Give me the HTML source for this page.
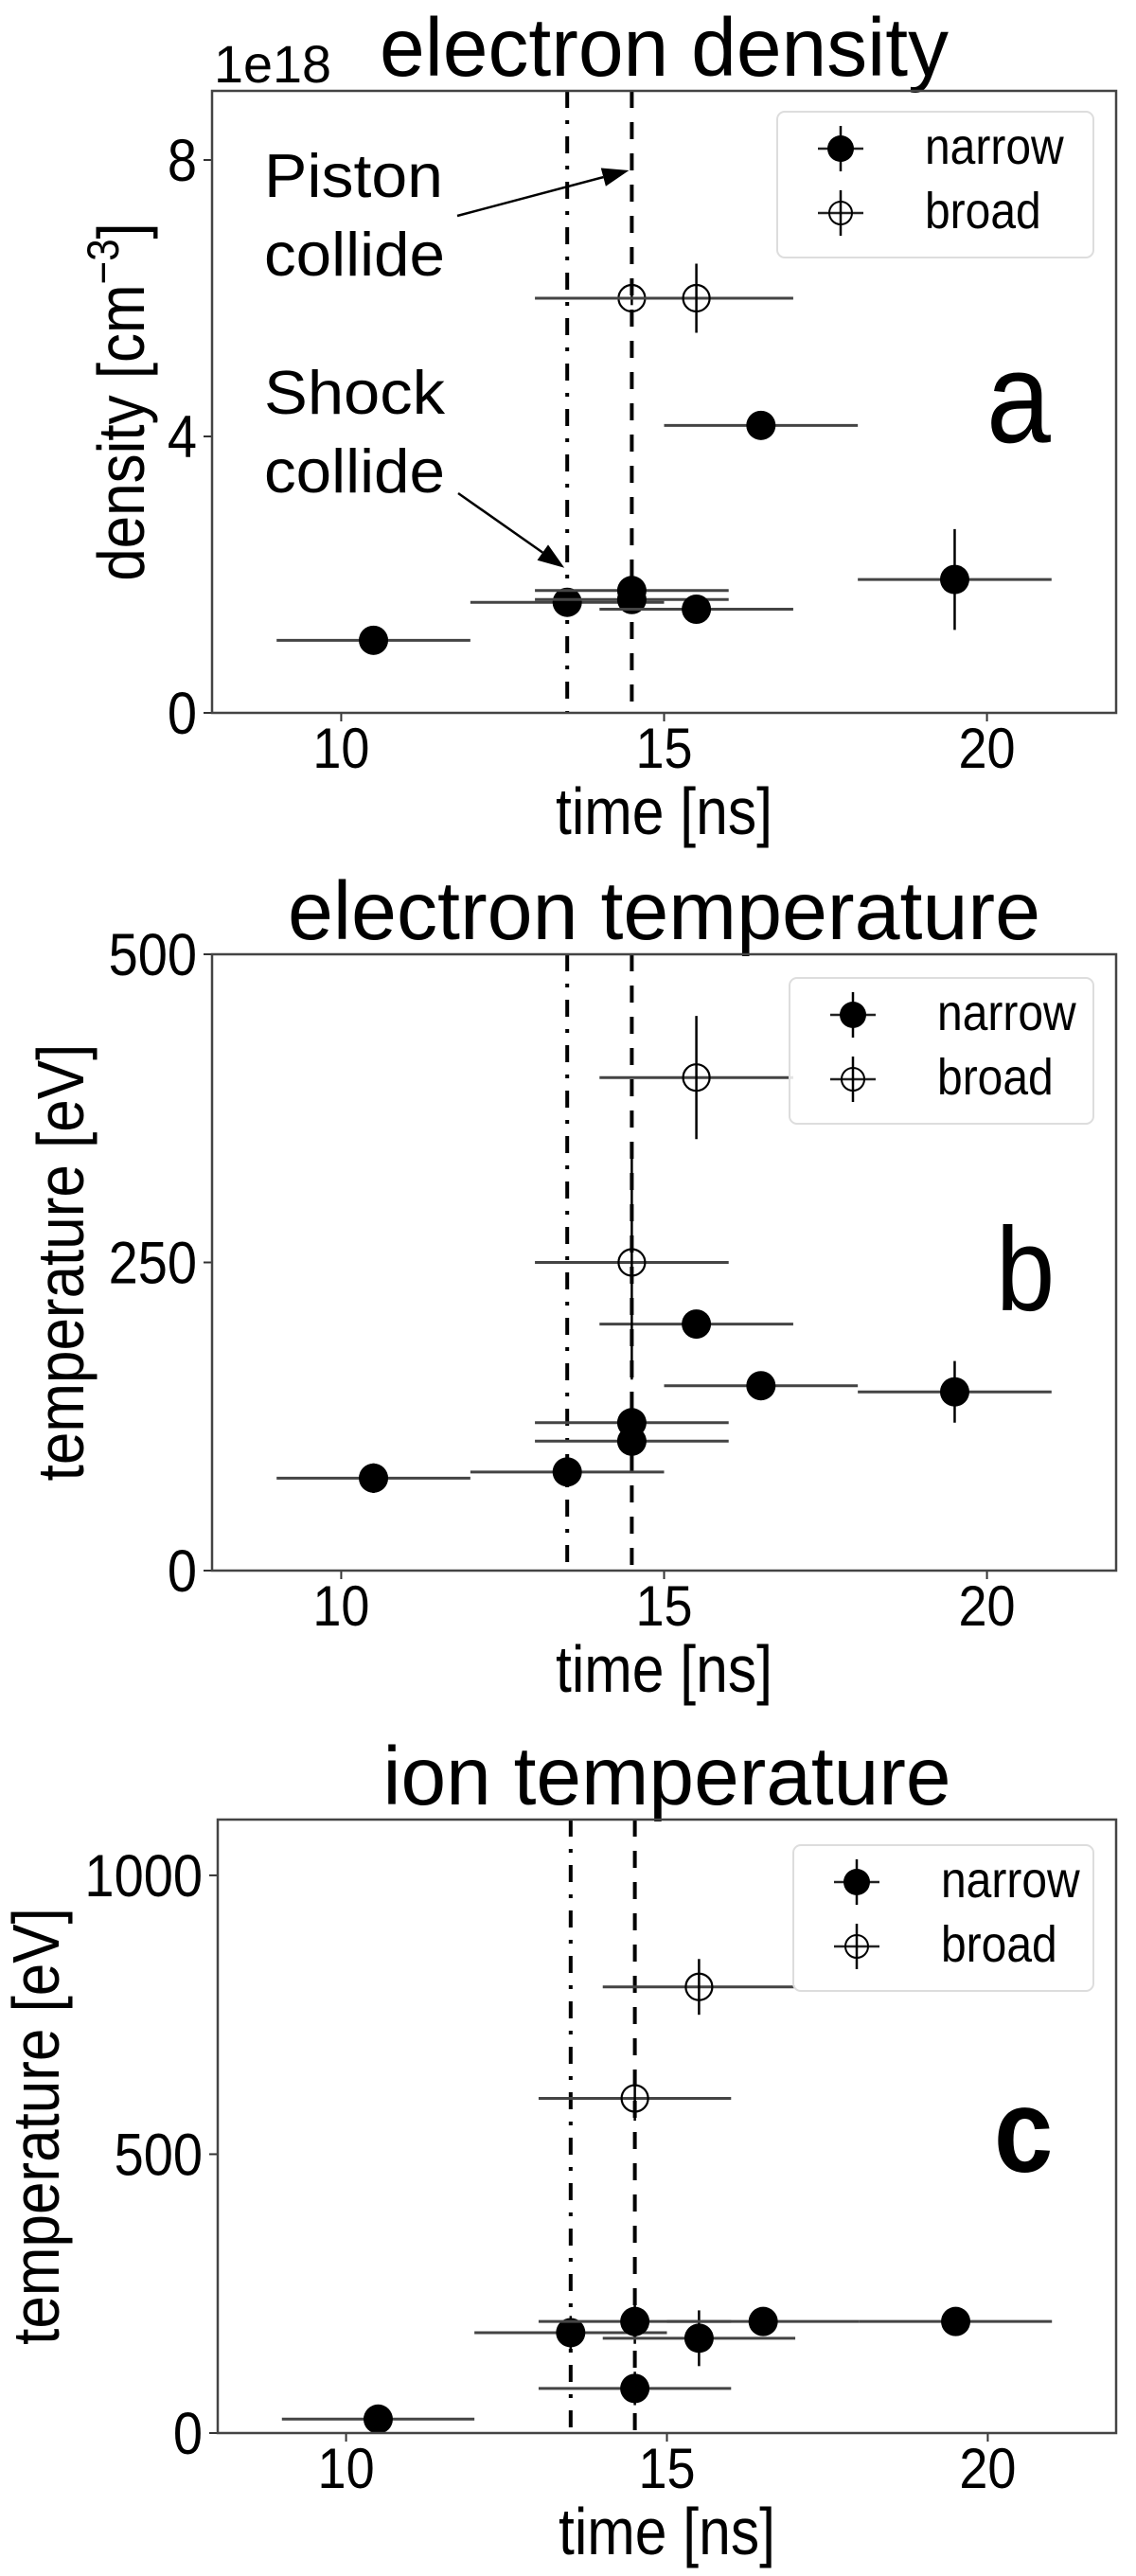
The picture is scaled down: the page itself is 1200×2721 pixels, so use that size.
<!DOCTYPE html>
<html><head><meta charset="utf-8"><title>Plasma diagnostics</title>
<style>
html,body{margin:0;padding:0;background:#fff;}
svg{display:block;font-family:"Liberation Sans",Arial,sans-serif;}
</style></head>
<body>
<svg id="fig" width="1200" height="2721" viewBox="0 0 1200 2721" xmlns="http://www.w3.org/2000/svg"></svg>
<script>
// ---- shared data ----
const xTicks = [10, 15, 20];
const shockTime = 13.5;
const pistonTime = 14.5;

// Panel a: electron density (1e18 cm^-3)
const aNarrowX = [10.5, 13.5, 14.5, 14.5, 15.5, 16.5, 19.5];
const aNarrowY = [1.05, 1.6, 1.77, 1.64, 1.5, 4.16, 1.93];
const aNarrowXerr = [1.5, 1.5, 1.5, 1.5, 1.5, 1.5, 1.5];
const aNarrowYerr = [0.1, 0.2, 0.1, 0.1, 0.1, 0.05, 0.73];
const aBroadX = [14.5, 15.5];
const aBroadY = [6.0, 6.0];
const aBroadXerr = [1.5, 1.5];
const aBroadYerr = [0.1, 0.5];
const aYTicks = [0, 4, 8];

// Panel b: electron temperature (eV)
const bNarrowX = [10.5, 13.5, 14.5, 14.5, 15.5, 16.5, 19.5];
const bNarrowY = [75, 80, 120, 105, 200, 150, 145];
const bNarrowXerr = [1.5, 1.5, 1.5, 1.5, 1.5, 1.5, 1.5];
const bNarrowYerr = [12, 10, 10, 10, 5, 5, 25];
const bBroadX = [14.5, 15.5];
const bBroadY = [250, 400];
const bBroadXerr = [1.5, 1.5];
const bBroadYerr = [95, 50];
const bYTicks = [0, 250, 500];

// Panel c: ion temperature (eV)
const cNarrowX = [10.5, 13.5, 14.5, 14.5, 15.5, 16.5, 19.5];
const cNarrowY = [25, 180, 200, 80, 170, 200, 200];
const cNarrowXerr = [1.5, 1.5, 1.5, 1.5, 1.5, 1.5, 1.5];
const cNarrowYerr = [5, 30, 40, 30, 50, 10, 10];
const cBroadX = [14.5, 15.5];
const cBroadY = [600, 800];
const cBroadXerr = [1.5, 1.5];
const cBroadYerr = [40, 50];
const cYTicks = [0, 500, 1000];

const NS = "http://www.w3.org/2000/svg";
const svg = document.getElementById("fig");
const SY = 1.12; // vertical glyph stretch of the reference
function mk(tag, attrs, parent, text){
  const e = document.createElementNS(NS, tag);
  for (const k in attrs) e.setAttribute(k, attrs[k]);
  if (text !== undefined) e.textContent = text;
  (parent || svg).appendChild(e);
  return e;
}
function tx(attrs, parent, text){
  const e = mk("text", attrs, parent, text);
  const y0 = parseFloat(attrs.y);
  e.setAttribute("transform", "matrix(1,0,0," + SY + ",0," + (-(SY - 1) * y0) + ")");
  return e;
}

function drawPanel(p){
  const g = mk("g", {});
  
  
  const X = v => p.left + (v - 8) / 14 * (p.right - p.left);
  const Y = v => p.bottom - (v - 0) / p.ymax * (p.bottom - p.top);

  const t = tx({x: (p.left + p.right) / 2, y: p.titleY, "text-anchor": "middle", "font-size": 78, fill: "#000", textLength: p.titleW, lengthAdjust: "spacingAndGlyphs"}, g, p.title);
  
  

  xTicks.forEach(v => {
    mk("line", {x1: X(v), x2: X(v), y1: p.bottom, y2: p.bottom + 9, stroke: "#333", "stroke-width": 2}, g);
    const tl = tx({x: X(v), y: p.bottom + 58, "text-anchor": "middle", "font-size": 54}, g, String(v));
    
    
  });
  p.yTicks.forEach(v => {
    mk("line", {x1: p.left - 9, x2: p.left, y1: Y(v), y2: Y(v), stroke: "#333", "stroke-width": 2}, g);
    const tl = tx({x: p.left - 16, y: Y(v) + 22, "text-anchor": "end", "font-size": 56}, g, String(v));
    
    
  });
  const xl = tx({x: (p.left + p.right) / 2, y: p.bottom + 128, "text-anchor": "middle", "font-size": 62, textLength: 229, lengthAdjust: "spacingAndGlyphs"}, g, "time [ns]");
  
  
  const yc = (p.top + p.bottom) / 2;
  const yl = mk("text", {x: 0, y: 0, "text-anchor": "middle", "font-size": 62, transform: "translate(" + p.ylabX + "," + yc + ") rotate(-90) scale(1," + SY + ")"}, g);
  
  
  if (p.name === 'density') {
    yl.textContent = "density [cm";
    mk("tspan", {"font-size": 42, dy: -24}, yl, "\u22123");
    mk("tspan", {dy: 24}, yl, "]");
  } else {
    yl.textContent = "temperature [eV]";
  }

  const sl = mk("line", {x1: X(shockTime), x2: X(shockTime), y1: p.top, y2: p.bottom, stroke: "#000", "stroke-width": 4, "stroke-dasharray": "18 13 4 13"}, g);
  
  
  const pl = mk("line", {x1: X(pistonTime), x2: X(pistonTime), y1: p.top, y2: p.bottom, stroke: "#000", "stroke-width": 4, "stroke-dasharray": "18 15"}, g);
  
  

  function series(xs, ys, xe, ye, filled, nm){
    xs.forEach((xv, i) => {
      const eg = mk("g", {}, g);
      
      
      mk("line", {x1: X(xv - xe[i]), x2: X(xv + xe[i]), y1: Y(ys[i]), y2: Y(ys[i]), stroke: "#444", "stroke-width": 3}, eg);
      mk("line", {x1: X(xv), x2: X(xv), y1: Y(ys[i] - ye[i]), y2: Y(ys[i] + ye[i]), stroke: "#000", "stroke-width": 2.5}, eg);
      if (filled) mk("circle", {cx: X(xv), cy: Y(ys[i]), r: 15.5, fill: "#000"}, eg);
      else mk("circle", {cx: X(xv), cy: Y(ys[i]), r: 14, fill: "none", stroke: "#000", "stroke-width": 2.2}, eg);
    });
  }
  series(p.nx, p.ny, p.nxe, p.nye, true, 'narrow');
  series(p.bx, p.by, p.bxe, p.bye, false, 'broad');

  const fr = mk("rect", {x: p.left, y: p.top, width: p.right - p.left, height: p.bottom - p.top, fill: "none", stroke: "#444", "stroke-width": 2.5}, g);
  
  

  const lg = mk("g", {}, g);
  
  
  mk("rect", {x: p.lgX, y: p.lgY, width: 1155 - p.lgX, height: 154, rx: 8, fill: "#fff", "fill-opacity": 0.85, stroke: "#ddd", "stroke-width": 2}, lg);
  const mx = p.lgX + 67;
  [["narrow", true, 39], ["broad", false, 107]].forEach(([lab, filled, dy]) => {
    const le = mk("g", {}, lg);
    
    
    const cy = p.lgY + dy;
    mk("line", {x1: mx - 24, x2: mx + 24, y1: cy, y2: cy, stroke: "#222", "stroke-width": 2.5}, le);
    mk("line", {x1: mx, x2: mx, y1: cy - 24, y2: cy + 24, stroke: "#000", "stroke-width": 2.5}, le);
    if (filled) mk("circle", {cx: mx, cy: cy, r: 14, fill: "#000"}, le);
    else mk("circle", {cx: mx, cy: cy, r: 12, fill: "none", stroke: "#000", "stroke-width": 2}, le);
    tx({x: p.lgX + 156, y: cy + 16, "font-size": 48}, le, lab);
  });

  const pl2 = tx({x: p.letX, y: p.letY, "font-size": p.letSize, "font-weight": p.letBold ? "bold" : "normal"}, g, p.letter);
  
  
  return {g, X, Y};
}

const pa = drawPanel({name: 'density', title: 'electron density', titleW: 601, titleY: 80, left: 224, right: 1179, top: 96, bottom: 753, ymax: 9,
  yTicks: aYTicks, ylabX: 152, nx: aNarrowX, ny: aNarrowY, nxe: aNarrowXerr, nye: aNarrowYerr,
  bx: aBroadX, by: aBroadY, bxe: aBroadXerr, bye: aBroadYerr, lgX: 821, lgY: 118,
  letter: 'a', letX: 1042, letY: 467, letSize: 122, letBold: false});
const mult = tx({x: 226, y: 87, "font-size": 50, textLength: 124, lengthAdjust: "spacingAndGlyphs"}, pa.g, "1e18");


const ann = mk("g", {}, pa.g);


tx({x: 279, y: 208, "font-size": 58, textLength: 189, lengthAdjust: "spacingAndGlyphs"}, ann, "Piston");
tx({x: 279, y: 291, "font-size": 58, textLength: 191, lengthAdjust: "spacingAndGlyphs"}, ann, "collide");
tx({x: 279, y: 437, "font-size": 58, textLength: 191, lengthAdjust: "spacingAndGlyphs"}, ann, "Shock");
tx({x: 279, y: 520, "font-size": 58, textLength: 191, lengthAdjust: "spacingAndGlyphs"}, ann, "collide");
function arrow(x1, y1, x2, y2){
  const a = Math.atan2(y2 - y1, x2 - x1), L = 28, W = 10;
  const bx = x2 - L * Math.cos(a), by = y2 - L * Math.sin(a);
  mk("line", {x1: x1, y1: y1, x2: bx, y2: by, stroke: "#000", "stroke-width": 2.5}, ann);
  mk("polygon", {points: x2 + "," + y2 + " " + (bx - W * Math.sin(a)) + "," + (by + W * Math.cos(a)) + " " + (bx + W * Math.sin(a)) + "," + (by - W * Math.cos(a)), fill: "#000"}, ann);
}
arrow(483, 228, pa.X(pistonTime) - 3, pa.Y(7.85));
arrow(484, 521, pa.X(shockTime) - 3, pa.Y(2.1));

drawPanel({name: 'etemp', title: 'electron temperature', titleW: 795, titleY: 992, left: 224, right: 1179, top: 1008, bottom: 1659, ymax: 500,
  yTicks: bYTicks, ylabX: 88, nx: bNarrowX, ny: bNarrowY, nxe: bNarrowXerr, nye: bNarrowYerr,
  bx: bBroadX, by: bBroadY, bxe: bBroadXerr, bye: bBroadYerr, lgX: 834, lgY: 1033,
  letter: 'b', letX: 1052, letY: 1384, letSize: 112, letBold: false});

drawPanel({name: 'itemp', title: 'ion temperature', titleW: 600, titleY: 1906, left: 230, right: 1179, top: 1922, bottom: 2570, ymax: 1100,
  yTicks: cYTicks, ylabX: 62, nx: cNarrowX, ny: cNarrowY, nxe: cNarrowXerr, nye: cNarrowYerr,
  bx: cBroadX, by: cBroadY, bxe: cBroadXerr, bye: cBroadYerr, lgX: 838, lgY: 1949,
  letter: 'c', letX: 1050, letY: 2294, letSize: 112, letBold: true});
</script>
</body></html>
